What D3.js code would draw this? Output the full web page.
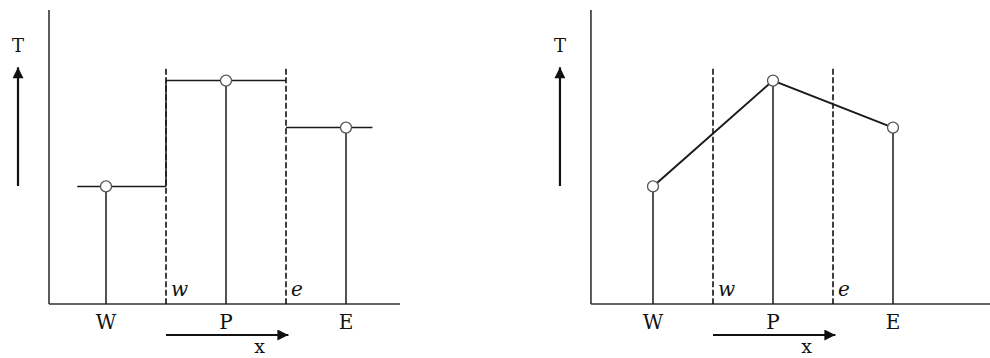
<!DOCTYPE html>
<html>
<head>
<meta charset="utf-8">
<script src="https://cdn.jsdelivr.net/npm/d3@7"></script>
<style>
  body { margin: 0; background: #fff; }
  svg { display: block; }
</style>
</head>
<body>
<div id="chart-container"></div>
<script>
// node names and their temperatures
const nodes = ["W", "P", "E"];
const nodeT = [40, 76, 60];
// control-volume faces (in node units)
const faces = ["w", "e"];
const facePos = [0.5, 1.5];
const faceTopT = 80;
// piecewise-constant profile: extent of each step (node units)
const stepExtent = [[-0.24, 0.5], [0.5, 1.5], [1.5, 2.22]];

const width = 990;
const height = 358;
const yBottom = 304;
const yTop = 10;

const y = d3.scaleLinear().domain([0, 100]).range([yBottom, yTop]);

const panels = [
  { kind: "step", x: d3.scaleLinear().domain([0, 2]).range([106, 346]), axis: [-0.475, 2.45] },
  { kind: "linear", x: d3.scaleLinear().domain([0, 2]).range([653, 893]), axis: [-0.517, 2.81] }
];

const svg = d3.select("#chart-container").append("svg")
    .attr("width", width)
    .attr("height", height)
    .attr("viewBox", [0, 0, width, height]);

const defs = svg.append("defs");
defs.append("marker")
    .attr("id", "head")
    .attr("viewBox", "0 0 10 10")
    .attr("refX", 10)
    .attr("refY", 5)
    .attr("markerUnits", "userSpaceOnUse")
    .attr("markerWidth", 13)
    .attr("markerHeight", 11)
    .attr("orient", "auto")
  .append("path")
    .attr("d", "M0,0L10,5L0,10Z")
    .attr("fill", "#111");

const ink = "#1a1a1a";
const serif = "'DejaVu Serif', 'Liberation Serif', serif";

panels.forEach(p => {
  const x = p.x;
  const g = svg.append("g");
  const x0 = x(p.axis[0]);

  // axes
  g.append("line")
      .attr("x1", x0).attr("x2", x0)
      .attr("y1", yTop).attr("y2", yBottom)
      .attr("stroke", "#333").attr("stroke-width", 1.6);
  g.append("line")
      .attr("x1", x0).attr("x2", x(p.axis[1]))
      .attr("y1", yBottom).attr("y2", yBottom)
      .attr("stroke", "#333").attr("stroke-width", 1.6);

  // T label + upward arrow
  const tx = x0 - 31;
  g.append("text")
      .attr("x", tx).attr("y", 52)
      .attr("text-anchor", "middle")
      .attr("font-family", serif).attr("font-size", 18)
      .attr("fill", "#111")
      .text("T");
  g.append("line")
      .attr("x1", tx).attr("x2", tx)
      .attr("y1", 186).attr("y2", y(80.5))
      .attr("stroke", "#111").attr("stroke-width", 2.2)
      .attr("marker-end", "url(#head)");

  // dashed face lines
  g.selectAll(".face")
    .data(facePos)
    .join("line")
      .attr("x1", d => x(d)).attr("x2", d => x(d))
      .attr("y1", y(faceTopT)).attr("y2", yBottom)
      .attr("stroke", "#111").attr("stroke-width", 1.6)
      .attr("stroke-dasharray", "6,2.5");

  g.selectAll(".facelabel")
    .data(faces)
    .join("text")
      .attr("x", (d, i) => x(facePos[i]) + 5)
      .attr("y", 296)
      .attr("font-family", serif).attr("font-style", "italic")
      .attr("font-size", 20).attr("fill", "#111")
      .text(d => d);

  // stems from nodes down to axis
  g.selectAll(".stem")
    .data(nodeT)
    .join("line")
      .attr("x1", (d, i) => x(i)).attr("x2", (d, i) => x(i))
      .attr("y1", d => y(d)).attr("y2", yBottom)
      .attr("stroke", ink).attr("stroke-width", 1.5);

  if (p.kind === "step") {
    g.selectAll(".step")
      .data(stepExtent)
      .join("line")
        .attr("x1", d => x(d[0])).attr("x2", d => x(d[1]))
        .attr("y1", (d, i) => y(nodeT[i])).attr("y2", (d, i) => y(nodeT[i]))
        .attr("stroke", ink).attr("stroke-width", 1.5);
    // vertical jump at w face up to P level
    g.append("line")
        .attr("x1", x(facePos[0])).attr("x2", x(facePos[0]))
        .attr("y1", y(nodeT[0])).attr("y2", y(nodeT[1]))
        .attr("stroke", ink).attr("stroke-width", 1.5);
  } else {
    const line = d3.line()
        .x((d, i) => x(i))
        .y(d => y(d));
    g.append("path")
        .datum(nodeT)
        .attr("fill", "none")
        .attr("stroke", ink)
        .attr("stroke-width", 2)
        .attr("d", line);
  }

  // node circles
  g.selectAll(".node")
    .data(nodeT)
    .join("circle")
      .attr("cx", (d, i) => x(i))
      .attr("cy", d => y(d))
      .attr("r", 5.5)
      .attr("fill", "#fff")
      .attr("stroke", "#555")
      .attr("stroke-width", 1.3);

  // node labels
  g.selectAll(".nodelabel")
    .data(nodes)
    .join("text")
      .attr("x", (d, i) => x(i))
      .attr("y", 329)
      .attr("text-anchor", "middle")
      .attr("font-family", serif).attr("font-size", 20)
      .attr("fill", "#111")
      .text(d => d);

  // x direction arrow
  g.append("line")
      .attr("x1", x(facePos[0])).attr("x2", x(facePos[1] + 0.02))
      .attr("y1", 335).attr("y2", 335)
      .attr("stroke", "#111").attr("stroke-width", 2.2)
      .attr("marker-end", "url(#head)");
  g.append("text")
      .attr("x", x(1.28)).attr("y", 353)
      .attr("text-anchor", "middle")
      .attr("font-family", serif).attr("font-size", 19)
      .attr("fill", "#111")
      .text("x");
});
</script>
</body>
</html>
